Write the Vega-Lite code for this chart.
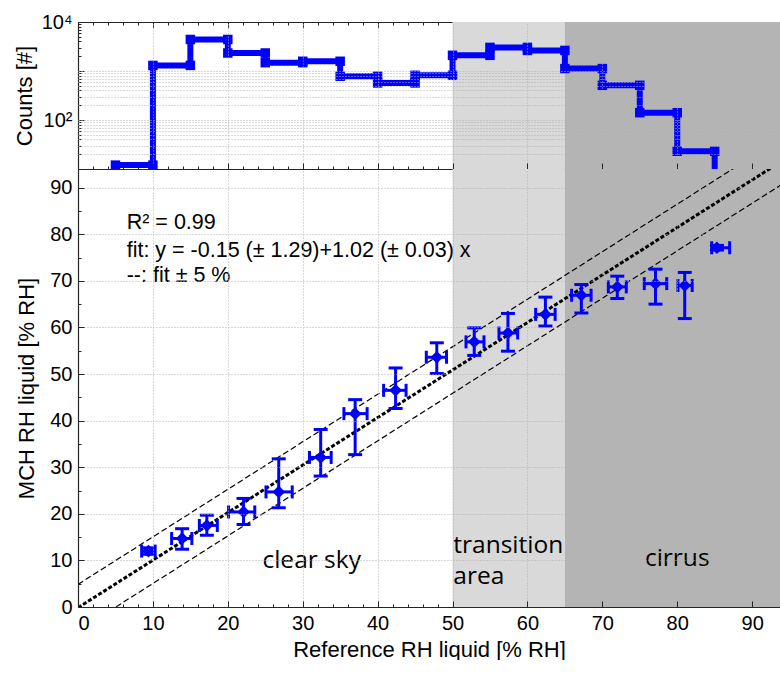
{
 "$schema": "https://vega.github.io/schema/vega-lite/v6.json",
 "padding": {"left": 13, "top": 12, "right": 0, "bottom": 0},
 "background": "white",
 "spacing": 0,
 "bounds": "flush",
 "config": {
  "font": "Liberation Sans",
  "view": {"stroke": null},
  "axis": {"domainColor": "#262626", "domainWidth": 1.2, "tickColor": "#262626", "tickWidth": 1, "labelColor": "black", "titleColor": "black", "labelFont": "Liberation Sans", "titleFont": "Liberation Sans", "labelFontSize": 20, "titleFontSize": 22, "titleFontWeight": "normal", "gridColor": "#b0b0b0", "gridDash": [1, 2], "gridWidth": 1}
 },
 "datasets": {
  "regions": [{"start": 50, "end": 65, "color": "#d9d9d9"}, {"start": 65, "end": 95, "color": "#b4b4b4"}],
  "hist": [
   {"i": 0, "x": 5, "count": 12}, {"i": 1, "x": 10, "count": 12},
   {"i": 2, "x": 10, "count": 1300}, {"i": 3, "x": 15, "count": 1300},
   {"i": 4, "x": 15, "count": 4400}, {"i": 5, "x": 20, "count": 4400},
   {"i": 6, "x": 20, "count": 2330}, {"i": 7, "x": 25, "count": 2330},
   {"i": 8, "x": 25, "count": 1480}, {"i": 9, "x": 30, "count": 1480},
   {"i": 10, "x": 30, "count": 1580}, {"i": 11, "x": 35, "count": 1580},
   {"i": 12, "x": 35, "count": 780}, {"i": 13, "x": 40, "count": 780},
   {"i": 14, "x": 40, "count": 570}, {"i": 15, "x": 45, "count": 570},
   {"i": 16, "x": 45, "count": 817}, {"i": 17, "x": 50, "count": 817},
   {"i": 18, "x": 50, "count": 2090}, {"i": 19, "x": 55, "count": 2090},
   {"i": 20, "x": 55, "count": 3030}, {"i": 21, "x": 60, "count": 3030},
   {"i": 22, "x": 60, "count": 2630}, {"i": 23, "x": 65, "count": 2630},
   {"i": 24, "x": 65, "count": 1120}, {"i": 25, "x": 70, "count": 1120},
   {"i": 26, "x": 70, "count": 510}, {"i": 27, "x": 75, "count": 510},
   {"i": 28, "x": 75, "count": 141}, {"i": 29, "x": 80, "count": 141},
   {"i": 30, "x": 80, "count": 23}, {"i": 31, "x": 85, "count": 23},
   {"i": 32, "x": 85, "count": 1}
  ],
  "pts": [
   {"x": 9.4, "y": 12.0, "xlo": 8.5, "xhi": 10.3, "ylo": 11.3, "yhi": 12.7},
   {"x": 13.9, "y": 14.7, "xlo": 12.5, "xhi": 15.2, "ylo": 12.4, "yhi": 16.8},
   {"x": 17.2, "y": 17.5, "xlo": 16.2, "xhi": 18.6, "ylo": 15.4, "yhi": 19.7},
   {"x": 22.1, "y": 20.4, "xlo": 20.1, "xhi": 23.6, "ylo": 17.7, "yhi": 23.3},
   {"x": 26.8, "y": 24.7, "xlo": 25.1, "xhi": 28.6, "ylo": 21.3, "yhi": 31.8},
   {"x": 32.4, "y": 32.1, "xlo": 30.9, "xhi": 33.8, "ylo": 28.1, "yhi": 38.1},
   {"x": 37.0, "y": 41.5, "xlo": 35.5, "xhi": 38.6, "ylo": 32.7, "yhi": 44.5},
   {"x": 42.4, "y": 46.5, "xlo": 40.8, "xhi": 43.8, "ylo": 42.6, "yhi": 51.3},
   {"x": 47.9, "y": 53.6, "xlo": 46.5, "xhi": 49.2, "ylo": 50.1, "yhi": 56.7},
   {"x": 52.9, "y": 56.9, "xlo": 51.8, "xhi": 54.2, "ylo": 54.0, "yhi": 59.9},
   {"x": 57.4, "y": 58.8, "xlo": 56.2, "xhi": 58.7, "ylo": 54.9, "yhi": 63.0},
   {"x": 62.4, "y": 62.8, "xlo": 61.1, "xhi": 63.7, "ylo": 60.3, "yhi": 66.5},
   {"x": 67.2, "y": 66.9, "xlo": 65.9, "xhi": 68.5, "ylo": 63.1, "yhi": 69.2},
   {"x": 72.0, "y": 68.7, "xlo": 70.8, "xhi": 73.2, "ylo": 66.2, "yhi": 71.0},
   {"x": 77.1, "y": 69.4, "xlo": 75.6, "xhi": 78.6, "ylo": 65.0, "yhi": 72.5},
   {"x": 81.0, "y": 69.0, "xlo": 80.1, "xhi": 82.0, "ylo": 61.9, "yhi": 71.8},
   {"x": 85.3, "y": 77.1, "xlo": 84.6, "xhi": 87.0, "ylo": 76.6, "yhi": 77.6}
  ],
  "fit": [{"x": 0, "fit": -0.15, "up": 4.85, "dn": -5.15}, {"x": 95, "fit": 96.75, "up": 101.75, "dn": 91.75}],
  "notes": [
   {"x": 6.5, "y": 81.2, "text": "R² = 0.99"},
   {"x": 6.5, "y": 75.1, "text": "fit: y = -0.15 (± 1.29)+1.02 (± 0.03) x"},
   {"x": 6.5, "y": 69.7, "text": "--: fit ± 5 %"}
  ],
  "zonesC": [{"x": 31.2, "y": 8.45, "text": "clear sky"}, {"x": 80, "y": 8.8, "text": "cirrus"}],
  "zonesL": [{"x": 50.1, "y": 11.6, "text": "transition"}, {"x": 50.1, "y": 5.0, "text": "area"}]
 },
 "vconcat": [
  {
   "width": 702,
   "height": 147,
   "resolve": {"axis": {"x": "independent", "y": "independent"}},
   "layer": [
    {
     "data": {"name": "regions"},
     "mark": {"type": "rect", "clip": true},
     "encoding": {
      "x": {"field": "start", "type": "quantitative", "scale": {"domain": [0, 93.72], "nice": false, "zero": false},
            "axis": {"orient": "bottom", "values": [10, 20, 30, 40, 50, 60, 70, 80, 90], "labels": false, "tickSize": -6, "grid": true, "zindex": 1, "title": null}},
      "x2": {"field": "end"},
      "color": {"field": "color", "type": "nominal", "scale": null}
     }
    },
    {
     "data": {"name": "hist"},
     "mark": {"type": "line", "color": "#0000ff", "strokeWidth": 6, "clip": true},
     "encoding": {
      "x": {"field": "x", "type": "quantitative", "scale": {"domain": [0, 93.72], "nice": false, "zero": false},
            "axis": {"orient": "bottom", "values": [2, 4, 6, 8, 12, 14, 16, 18, 22, 24, 26, 28, 32, 34, 36, 38, 42, 44, 46, 48, 52, 54, 56, 58, 62, 64, 66, 68, 72, 74, 76, 78, 82, 84, 86, 88, 92], "labels": false, "tickSize": -3, "domain": false, "grid": false, "title": null}},
      "y": {"field": "count", "type": "quantitative", "scale": {"type": "log", "domain": [10, 10000], "nice": false},
            "axis": {"orient": "left", "values": [10, 100, 1000, 10000], "labelExpr": "datum.value == 10000 ? '10⁴' : datum.value == 100 ? '10²' : ''", "tickSize": -6, "labelPadding": 12, "grid": false, "title": "Counts [#]", "titlePadding": 5}},
      "order": {"field": "i", "type": "quantitative"}
     }
    },
    {
     "data": {"name": "hist"},
     "mark": {"type": "square", "color": "#0000ff", "size": 90, "opacity": 1, "clip": true},
     "encoding": {
      "x": {"field": "x", "type": "quantitative", "scale": {"domain": [0, 93.72], "nice": false, "zero": false},
            "axis": {"orient": "top", "values": [0, 10, 20, 30, 40, 50, 60, 70, 80, 90], "labels": false, "tickSize": -6, "grid": false, "title": null}},
      "y": {"field": "count", "type": "quantitative", "scale": {"type": "log", "domain": [10, 10000], "nice": false},
            "axis": {"orient": "left", "values": [20, 30, 40, 50, 60, 70, 80, 90, 100, 200, 300, 400, 500, 600, 700, 800, 900, 1000], "labels": false, "ticks": false, "domain": false, "grid": true, "zindex": 1, "title": null}}
     }
    },
    {
     "data": {"name": "hist"},
     "mark": {"type": "point", "opacity": 0, "clip": true},
     "encoding": {
      "x": {"field": "x", "type": "quantitative", "scale": {"domain": [0, 93.72], "nice": false, "zero": false},
            "axis": {"orient": "top", "values": [2, 4, 6, 8, 12, 14, 16, 18, 22, 24, 26, 28, 32, 34, 36, 38, 42, 44, 46, 48, 52, 54, 56, 58, 62, 64, 66, 68, 72, 74, 76, 78, 82, 84, 86, 88, 92], "labels": false, "tickSize": -3, "domain": false, "grid": false, "title": null}},
      "y": {"field": "count", "type": "quantitative", "scale": {"type": "log", "domain": [10, 10000], "nice": false},
            "axis": {"orient": "left", "values": [20, 30, 40, 50, 60, 70, 80, 90, 200, 300, 400, 500, 600, 700, 800, 900, 2000, 3000, 4000, 5000, 6000, 7000, 8000, 9000], "labels": false, "tickSize": -3, "domain": false, "grid": false, "title": null}}
     }
    }
   ]
  },
  {
   "width": 702,
   "height": 438,
   "resolve": {"axis": {"x": "independent", "y": "independent"}},
   "layer": [
    {
     "data": {"name": "regions"},
     "mark": {"type": "rect", "clip": true},
     "encoding": {
      "x": {"field": "start", "type": "quantitative", "scale": {"domain": [0, 93.72], "nice": false, "zero": false},
            "axis": {"orient": "bottom", "values": [0, 10, 20, 30, 40, 50, 60, 70, 80, 90], "tickSize": -6, "labelPadding": 12, "grid": true, "zindex": 1, "title": "Reference RH liquid [% RH]", "titlePadding": 6}},
      "x2": {"field": "end"},
      "color": {"field": "color", "type": "nominal", "scale": null}
     }
    },
    {
     "data": {"name": "fit"},
     "mark": {"type": "line", "color": "black", "strokeWidth": 1.2, "strokeDash": [6, 3], "clip": true},
     "encoding": {
      "x": {"field": "x", "type": "quantitative", "scale": {"domain": [0, 93.72], "nice": false, "zero": false},
            "axis": {"orient": "bottom", "values": [2, 4, 6, 8, 12, 14, 16, 18, 22, 24, 26, 28, 32, 34, 36, 38, 42, 44, 46, 48, 52, 54, 56, 58, 62, 64, 66, 68, 72, 74, 76, 78, 82, 84, 86, 88, 92], "labels": false, "tickSize": -3, "domain": false, "grid": false, "title": null}},
      "y": {"field": "up", "type": "quantitative", "scale": {"domain": [0, 94], "nice": false, "zero": false},
            "axis": {"orient": "left", "values": [0, 10, 20, 30, 40, 50, 60, 70, 80, 90], "tickSize": -6, "labelPadding": 12, "grid": true, "zindex": 1, "title": "MCH RH liquid [% RH]", "titlePadding": 11}}
     }
    },
    {
     "data": {"name": "fit"},
     "mark": {"type": "line", "color": "black", "strokeWidth": 1.2, "strokeDash": [6, 3], "clip": true},
     "encoding": {
      "x": {"field": "x", "type": "quantitative", "scale": {"domain": [0, 93.72], "nice": false, "zero": false}, "axis": null},
      "y": {"field": "dn", "type": "quantitative", "scale": {"domain": [0, 94], "nice": false, "zero": false},
            "axis": {"orient": "left", "values": [5, 15, 25, 35, 45, 55, 65, 75, 85], "labels": false, "tickSize": -3, "domain": false, "grid": false, "title": null}}
     }
    },
    {
     "data": {"name": "fit"},
     "mark": {"type": "line", "color": "black", "strokeWidth": 3, "strokeDash": [4, 2], "clip": true},
     "encoding": {
      "x": {"field": "x", "type": "quantitative", "scale": {"domain": [0, 93.72], "nice": false, "zero": false}, "axis": null},
      "y": {"field": "fit", "type": "quantitative", "scale": {"domain": [0, 94], "nice": false, "zero": false}, "axis": null}
     }
    },
    {
     "data": {"name": "pts"},
     "mark": {"type": "rule", "color": "#0000ff", "strokeWidth": 3},
     "encoding": {
      "x": {"field": "x", "type": "quantitative", "axis": null},
      "y": {"field": "ylo", "type": "quantitative", "axis": null},
      "y2": {"field": "yhi"}
     }
    },
    {
     "data": {"name": "pts"},
     "mark": {"type": "rule", "color": "#0000ff", "strokeWidth": 3},
     "encoding": {
      "x": {"field": "xlo", "type": "quantitative", "axis": null},
      "x2": {"field": "xhi"},
      "y": {"field": "y", "type": "quantitative", "axis": null}
     }
    },
    {
     "data": {"name": "pts"},
     "mark": {"type": "tick", "color": "#0000ff", "orient": "horizontal", "size": 14, "thickness": 3, "opacity": 1},
     "encoding": {
      "x": {"field": "x", "type": "quantitative", "axis": null},
      "y": {"field": "ylo", "type": "quantitative", "axis": null}
     }
    },
    {
     "data": {"name": "pts"},
     "mark": {"type": "tick", "color": "#0000ff", "orient": "horizontal", "size": 14, "thickness": 3, "opacity": 1},
     "encoding": {
      "x": {"field": "x", "type": "quantitative", "axis": null},
      "y": {"field": "yhi", "type": "quantitative", "axis": null}
     }
    },
    {
     "data": {"name": "pts"},
     "mark": {"type": "tick", "color": "#0000ff", "orient": "vertical", "size": 13, "thickness": 3, "opacity": 1},
     "encoding": {
      "x": {"field": "xlo", "type": "quantitative", "axis": null},
      "y": {"field": "y", "type": "quantitative", "axis": null}
     }
    },
    {
     "data": {"name": "pts"},
     "mark": {"type": "tick", "color": "#0000ff", "orient": "vertical", "size": 13, "thickness": 3, "opacity": 1},
     "encoding": {
      "x": {"field": "xhi", "type": "quantitative", "axis": null},
      "y": {"field": "y", "type": "quantitative", "axis": null}
     }
    },
    {
     "data": {"name": "pts"},
     "mark": {"type": "point", "shape": "diamond", "filled": true, "color": "#0000ff", "size": 160, "opacity": 1},
     "encoding": {
      "x": {"field": "x", "type": "quantitative", "axis": null},
      "y": {"field": "y", "type": "quantitative", "axis": null}
     }
    },
    {
     "data": {"name": "notes"},
     "mark": {"type": "text", "align": "left", "baseline": "alphabetic", "font": "Liberation Sans", "fontSize": 21.5, "color": "black"},
     "encoding": {
      "x": {"field": "x", "type": "quantitative", "axis": null},
      "y": {"field": "y", "type": "quantitative", "axis": null},
      "text": {"field": "text"}
     }
    },
    {
     "data": {"name": "zonesC"},
     "mark": {"type": "text", "align": "center", "baseline": "alphabetic", "font": "Open Sans", "fontSize": 24.5, "color": "black"},
     "encoding": {
      "x": {"field": "x", "type": "quantitative", "axis": null},
      "y": {"field": "y", "type": "quantitative", "axis": null},
      "text": {"field": "text"}
     }
    },
    {
     "data": {"name": "zonesL"},
     "mark": {"type": "text", "align": "left", "baseline": "alphabetic", "font": "Open Sans", "fontSize": 24.5, "color": "black"},
     "encoding": {
      "x": {"field": "x", "type": "quantitative", "axis": null},
      "y": {"field": "y", "type": "quantitative", "axis": null},
      "text": {"field": "text"}
     }
    }
   ]
  }
 ]
}
